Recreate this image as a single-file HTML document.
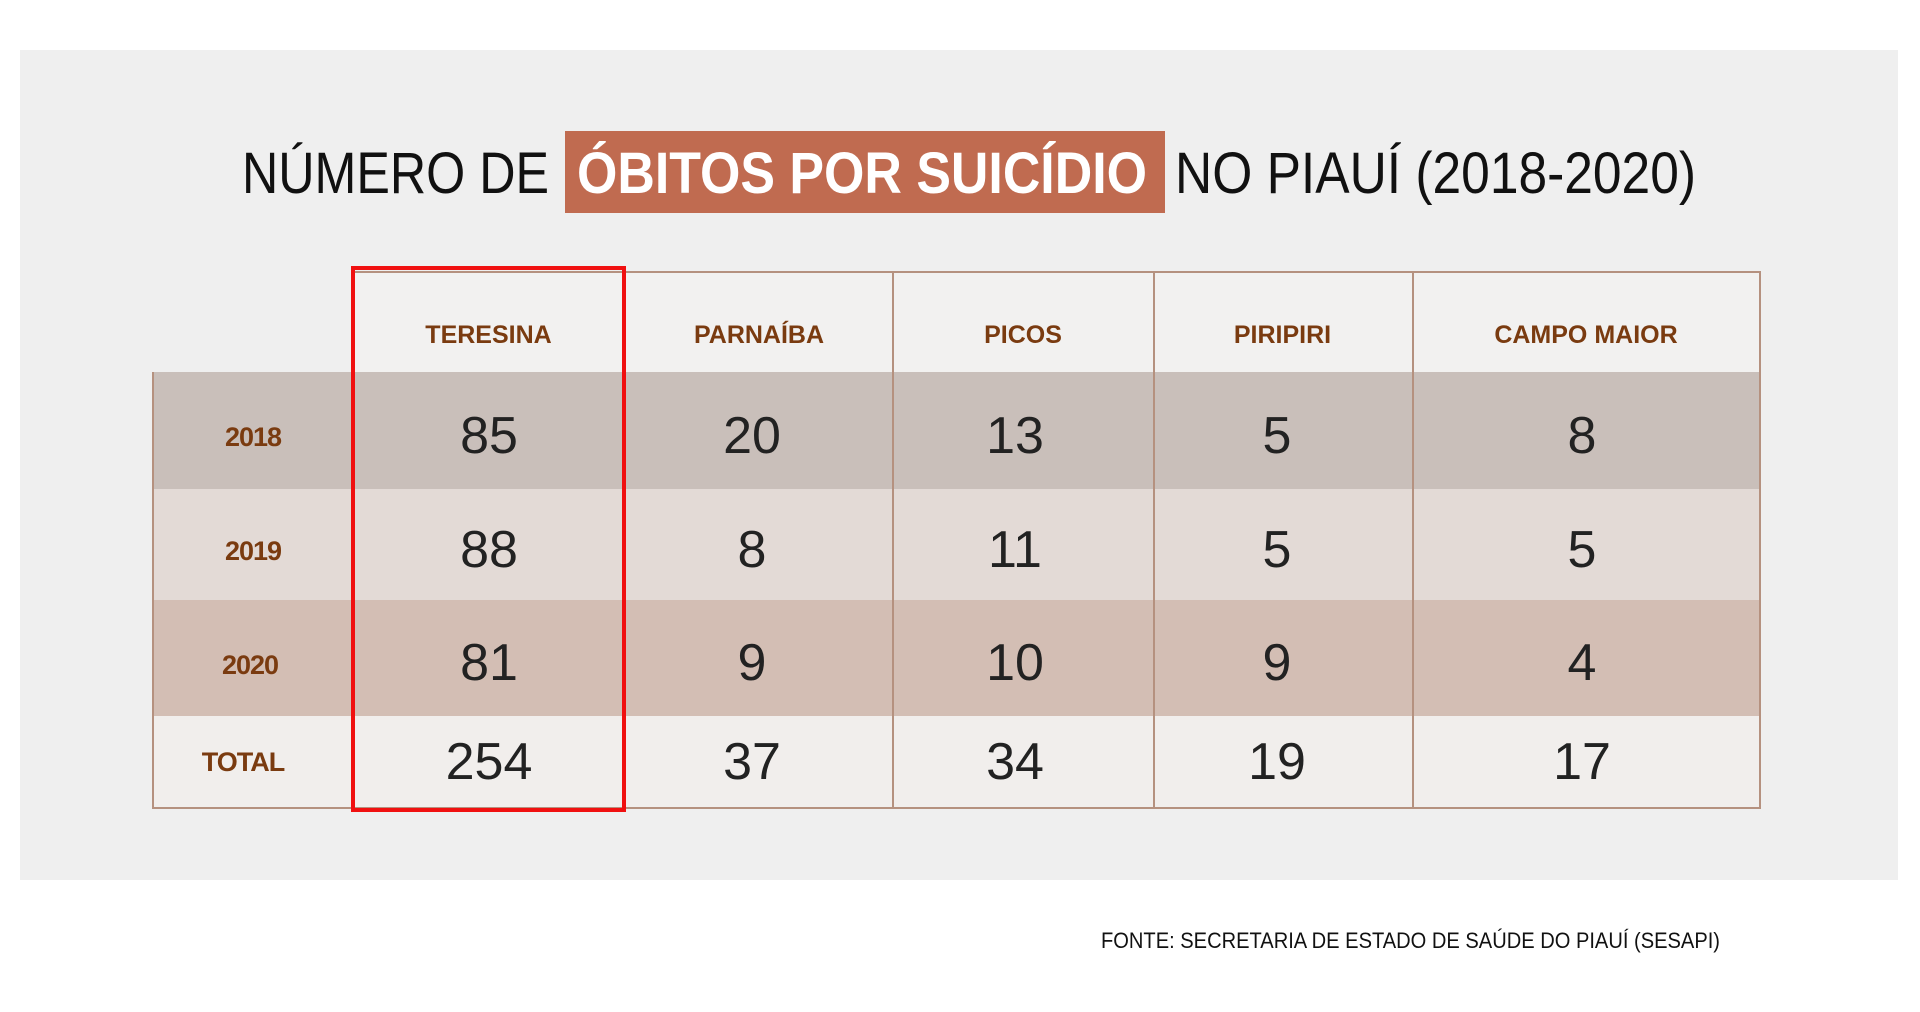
<!DOCTYPE html>
<html><head><meta charset="utf-8"><style>
body{margin:0;width:1920px;height:1012px;background:#fff;position:relative;overflow:hidden;font-family:"Liberation Sans",sans-serif}
.paper{position:absolute;left:20px;top:50px;width:1878px;height:830px;background:#efefef}
.cell{position:absolute;display:flex;align-items:center;justify-content:center}
.num{font-size:52px;color:#222}
.hd{font-size:25px;font-weight:bold;color:#7a3b10}
.rl{font-size:27px;font-weight:bold;color:#7a3b10;letter-spacing:-1px}
.vl{position:absolute;width:2px;background:#b5917f}
.hlin{position:absolute;height:2px;background:#b5917f}
</style></head><body>
<div class="paper"></div>
<div style="position:absolute;left:565px;top:131px;width:600px;height:82px;background:#c06b50"></div>
<svg style="position:absolute;left:0;top:0" width="1920" height="260">
<text x="242" y="193" font-family="Liberation Sans" font-size="58" fill="#111" textLength="307" lengthAdjust="spacingAndGlyphs">NÚMERO DE</text>
<text x="577" y="193" font-family="Liberation Sans" font-weight="bold" font-size="58" fill="#fff" textLength="570" lengthAdjust="spacingAndGlyphs">ÓBITOS POR SUICÍDIO</text>
<text x="1175" y="193" font-family="Liberation Sans" font-size="58" fill="#111" textLength="521" lengthAdjust="spacingAndGlyphs">NO PIAUÍ (2018-2020)</text>
</svg>
<div style="position:absolute;left:351px;top:272px;width:1409px;height:100px;background:#f2f1f0"></div>
<div style="position:absolute;left:153px;top:372px;width:1607px;height:117px;background:#c9bfba"></div>
<div style="position:absolute;left:153px;top:489px;width:1607px;height:111px;background:#e3dad6"></div>
<div style="position:absolute;left:153px;top:600px;width:1607px;height:116px;background:#d3beb4"></div>
<div style="position:absolute;left:153px;top:716px;width:1607px;height:92px;background:#f1eeec"></div>
<div class="hlin" style="left:351px;top:271px;width:1410px"></div>
<div class="hlin" style="left:153px;top:807px;width:1608px"></div>
<div class="vl" style="left:152px;top:372px;height:437px"></div>
<div class="vl" style="left:1759px;top:271px;height:538px"></div>
<div class="vl" style="left:892px;top:271px;height:538px"></div>
<div class="vl" style="left:1153px;top:271px;height:538px"></div>
<div class="vl" style="left:1412px;top:271px;height:538px"></div>
<div class="vl" style="left:622px;top:271px;height:538px"></div>
<div class="cell hd" style="left:351px;top:290px;width:275px;height:90px">TERESINA</div>
<div class="cell hd" style="left:626px;top:290px;width:266px;height:90px">PARNAÍBA</div>
<div class="cell hd" style="left:893px;top:290px;width:260px;height:90px">PICOS</div>
<div class="cell hd" style="left:1153px;top:290px;width:259px;height:90px">PIRIPIRI</div>
<div class="cell hd" style="left:1412px;top:290px;width:348px;height:90px">CAMPO MAIOR</div>
<div class="cell rl" style="left:153px;top:372px;width:200px;height:131px">2018</div>
<div class="cell rl" style="left:153px;top:489px;width:200px;height:125px">2019</div>
<div class="cell rl" style="left:150px;top:600px;width:200px;height:130px">2020</div>
<div class="cell rl" style="left:143px;top:716px;width:200px;height:92px">TOTAL</div>
<div class="cell num" style="left:389px;top:372px;width:200px;height:127px">85</div>
<div class="cell num" style="left:652px;top:372px;width:200px;height:127px">20</div>
<div class="cell num" style="left:915px;top:372px;width:200px;height:127px">13</div>
<div class="cell num" style="left:1177px;top:372px;width:200px;height:127px">5</div>
<div class="cell num" style="left:1482px;top:372px;width:200px;height:127px">8</div>
<div class="cell num" style="left:389px;top:489px;width:200px;height:121px">88</div>
<div class="cell num" style="left:652px;top:489px;width:200px;height:121px">8</div>
<div class="cell num" style="left:915px;top:489px;width:200px;height:121px">11</div>
<div class="cell num" style="left:1177px;top:489px;width:200px;height:121px">5</div>
<div class="cell num" style="left:1482px;top:489px;width:200px;height:121px">5</div>
<div class="cell num" style="left:389px;top:600px;width:200px;height:126px">81</div>
<div class="cell num" style="left:652px;top:600px;width:200px;height:126px">9</div>
<div class="cell num" style="left:915px;top:600px;width:200px;height:126px">10</div>
<div class="cell num" style="left:1177px;top:600px;width:200px;height:126px">9</div>
<div class="cell num" style="left:1482px;top:600px;width:200px;height:126px">4</div>
<div class="cell num" style="left:389px;top:716px;width:200px;height:92px">254</div>
<div class="cell num" style="left:652px;top:716px;width:200px;height:92px">37</div>
<div class="cell num" style="left:915px;top:716px;width:200px;height:92px">34</div>
<div class="cell num" style="left:1177px;top:716px;width:200px;height:92px">19</div>
<div class="cell num" style="left:1482px;top:716px;width:200px;height:92px">17</div>
<div style="position:absolute;left:351px;top:266px;width:267px;height:538px;border:4px solid #f01010"></div>
<svg style="position:absolute;left:0;top:920px" width="1920" height="40">
<text x="1101" y="28" font-family="Liberation Sans" font-size="22" fill="#111" textLength="619" lengthAdjust="spacingAndGlyphs">FONTE: SECRETARIA DE ESTADO DE SAÚDE DO PIAUÍ (SESAPI)</text>
</svg>
</body></html>
